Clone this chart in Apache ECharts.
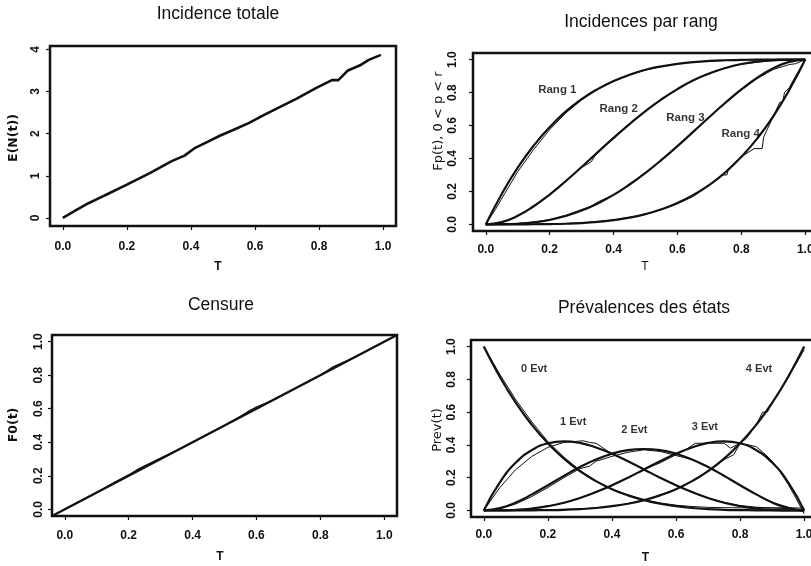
<!DOCTYPE html>
<html>
<head>
<meta charset="utf-8">
<script src="https://cdn.jsdelivr.net/npm/echarts@6/dist/echarts.min.js"></script>
<style>html,body{margin:0;padding:0;background:#fff}#c{width:811px;height:566px}</style>
</head>
<body>
<div id="c"></div>
<script>
// ---------- data ----------
const titles = ['Incidence totale', 'Incidences par rang', 'Censure', 'Prévalences des états'];
const yNames = ['E(N(t))', 'Fp(t), 0 < p < r', 'F0(t)', 'Prev(t)'];
const xName = 'T';
const xTicks = [0, 0.2, 0.4, 0.6, 0.8, 1.0];
const yTicksInc = [0, 1, 2, 3, 4];
const yTicksUnit = [0, 0.2, 0.4, 0.6, 0.8, 1.0];

// panel 1 : total incidence (one observed curve)
const incT =   [0, 0.04, 0.08, 0.11, 0.14, 0.20, 0.27, 0.34, 0.38, 0.41, 0.45, 0.49, 0.53, 0.58, 0.63, 0.68, 0.73, 0.79, 0.84, 0.86, 0.89, 0.93, 0.955, 0.993];
const incVal = [0, 0.18, 0.35, 0.46, 0.57, 0.79, 1.06, 1.35, 1.48, 1.65, 1.80, 1.95, 2.08, 2.25, 2.45, 2.64, 2.83, 3.08, 3.27, 3.27, 3.50, 3.63, 3.75, 3.87];

// common time grid of the smooth (theoretical) curves
const T = [0, 0.05, 0.1, 0.15, 0.2, 0.25, 0.3, 0.35, 0.4, 0.45, 0.5, 0.55, 0.6, 0.65, 0.7, 0.75, 0.8, 0.85, 0.9, 0.95, 1];

// panel 2 : incidence by rank, theoretical
const rang1 = [0, .185, .344, .478, .590, .684, .760, .821, .870, .908, .938, .959, .974, .985, .992, .996, .998, 1, 1, 1, 1];
const rang2 = [0, .014, .052, .110, .181, .262, .348, .437, .525, .609, .688, .759, .821, .874, .916, .949, .973, .988, .996, 1, 1];
const rang3 = [0, .001, .004, .012, .027, .051, .084, .127, .179, .242, .313, .391, .475, .563, .652, .738, .819, .891, .948, .986, 1];
const rang4 = [0, 0, 0, .001, .002, .004, .008, .015, .026, .041, .063, .092, .130, .179, .240, .316, .410, .522, .656, .815, 1];
// panel 2 : incidence by rank, observed
const rang1Emp = [[0,0],[0.03,0.09],[0.06,0.19],[0.1,0.32],[0.15,0.455],[0.2,0.575],[0.25,0.675],[0.3,0.755],[0.35,0.82],[0.4,0.868],[0.45,0.905],[0.5,0.937],[0.55,0.958],[0.6,0.975],[0.65,0.986],[0.7,0.99],[0.75,0.995],[0.8,0.997],[0.85,0.999],[0.9,0.995],[0.95,1],[1,1]];
const rang2Emp = [[0,0],[0.05,0.012],[0.1,0.05],[0.15,0.106],[0.2,0.18],[0.25,0.265],[0.3,0.345],[0.33,0.38],[0.35,0.44],[0.4,0.52],[0.45,0.61],[0.5,0.69],[0.55,0.76],[0.6,0.82],[0.65,0.875],[0.7,0.915],[0.75,0.95],[0.8,0.972],[0.85,0.985],[0.9,0.993],[0.95,0.995],[1,1]];
const rang3Emp = [[0,0],[0.05,0.002],[0.1,0.006],[0.15,0.014],[0.2,0.03],[0.25,0.055],[0.3,0.09],[0.33,0.11],[0.35,0.135],[0.4,0.18],[0.45,0.24],[0.5,0.31],[0.55,0.39],[0.6,0.475],[0.65,0.565],[0.7,0.65],[0.75,0.735],[0.8,0.815],[0.85,0.885],[0.9,0.94],[0.95,0.97],[0.97,0.975],[1,1]];
const rang4Emp = [[0,0],[0.1,0],[0.2,0.002],[0.3,0.009],[0.4,0.027],[0.5,0.06],[0.55,0.09],[0.6,0.125],[0.65,0.17],[0.7,0.24],[0.74,0.3],[0.755,0.3],[0.76,0.34],[0.8,0.41],[0.84,0.46],[0.865,0.46],[0.87,0.53],[0.9,0.655],[0.92,0.74],[0.93,0.745],[0.935,0.8],[0.95,0.83],[0.97,0.9],[1,1]];
const rangLabels = [[0.224, 0.818, 'Rang 1'], [0.416, 0.703, 'Rang 2'], [0.625, 0.648, 'Rang 3'], [0.798, 0.552, 'Rang 4']];

// panel 3 : censoring, theoretical diagonal and observed
const censTheoT = [-0.04, 1.04];
const censTheoV = [-0.04, 1.04];
const censEmp = [[0,0],[0.05,0.05],[0.1,0.10],[0.15,0.155],[0.2,0.205],[0.23,0.24],[0.25,0.26],[0.3,0.305],[0.35,0.35],[0.4,0.40],[0.45,0.45],[0.5,0.50],[0.55,0.555],[0.58,0.59],[0.6,0.61],[0.65,0.65],[0.7,0.70],[0.75,0.75],[0.8,0.80],[0.84,0.85],[0.9,0.90],[0.95,0.95],[1,1.0]];

// panel 4 : prevalence of states, theoretical
const prev0 = [1, .815, .656, .522, .410, .316, .240, .179, .130, .092, .063, .041, .026, .015, .008, .004, .002, .001, 0, 0, 0];
const prev1 = [0, .171, .292, .368, .410, .422, .412, .384, .346, .300, .250, .200, .154, .112, .076, .047, .026, .012, .004, 0, 0];
const prev2 = [0, .014, .049, .098, .154, .211, .265, .311, .346, .368, .375, .368, .346, .311, .265, .211, .154, .098, .049, .014, 0];
const prev3 = [0, 0, .004, .012, .026, .047, .076, .112, .154, .200, .250, .300, .346, .384, .412, .422, .410, .368, .292, .171, 0];
const prev4 = [0, 0, 0, .001, .002, .004, .008, .015, .026, .041, .063, .092, .130, .179, .240, .316, .410, .522, .656, .815, 1];
// panel 4 : prevalence of states, observed
const prev0Emp = [[0,1],[0.05,0.83],[0.1,0.675],[0.15,0.54],[0.2,0.42],[0.25,0.325],[0.3,0.245],[0.35,0.18],[0.4,0.13],[0.45,0.095],[0.5,0.066],[0.55,0.046],[0.6,0.032],[0.65,0.024],[0.7,0.019],[0.75,0.017],[0.8,0.016],[0.9,0.016],[1,0.015]];
const prev1Emp = [[0,0],[0.05,0.14],[0.1,0.25],[0.15,0.33],[0.2,0.385],[0.25,0.415],[0.28,0.42],[0.31,0.425],[0.33,0.415],[0.35,0.41],[0.4,0.345],[0.45,0.3],[0.5,0.25],[0.55,0.2],[0.6,0.155],[0.65,0.11],[0.7,0.075],[0.75,0.05],[0.8,0.03],[0.85,0.02],[0.9,0.015],[0.95,0.01],[1,0.0]];
const prev2Emp = [[0,0],[0.05,0.01],[0.1,0.04],[0.15,0.085],[0.2,0.14],[0.25,0.2],[0.3,0.255],[0.33,0.27],[0.35,0.3],[0.4,0.33],[0.45,0.355],[0.5,0.37],[0.55,0.36],[0.6,0.335],[0.65,0.31],[0.7,0.265],[0.75,0.215],[0.8,0.155],[0.85,0.1],[0.9,0.05],[0.95,0.02],[1,-0.01]];
const prev3Emp = [[0,0],[0.1,0.004],[0.15,0.012],[0.2,0.027],[0.25,0.045],[0.3,0.075],[0.35,0.11],[0.4,0.15],[0.45,0.2],[0.5,0.25],[0.55,0.29],[0.6,0.34],[0.63,0.37],[0.66,0.41],[0.7,0.41],[0.75,0.41],[0.77,0.38],[0.79,0.40],[0.8,0.41],[0.85,0.39],[0.88,0.34],[0.9,0.3],[0.92,0.25],[0.95,0.16],[0.97,0.09],[1,-0.02]];
const prev4Emp = [[0,0],[0.3,0.008],[0.4,0.025],[0.5,0.06],[0.6,0.13],[0.65,0.18],[0.7,0.24],[0.75,0.31],[0.78,0.34],[0.8,0.41],[0.82,0.44],[0.85,0.52],[0.87,0.6],[0.885,0.6],[0.9,0.655],[0.93,0.75],[0.95,0.82],[0.97,0.88],[1,0.98]];
const evtLabels = [[0.157, 0.866, '0 Evt'], [0.279, 0.537, '1 Evt'], [0.47, 0.488, '2 Evt'], [0.69, 0.512, '3 Evt'], [0.859, 0.866, '4 Evt']];

// ---------- chart ----------
const INK = '#111';
const SANS = '"Liberation Sans", Arial, Helvetica, sans-serif';
const WIDE = '"DejaVu Sans", sans-serif';

const grids = [
  { left: 50, top: 46, width: 346, height: 180 },
  { left: 473, top: 53, width: 345, height: 178 },
  { left: 52, top: 335, width: 345, height: 181 },
  { left: 471, top: 340, width: 346, height: 177 }
].map(g => Object.assign(g, { show: true, borderColor: INK, borderWidth: 2.5,
  backgroundColor: 'transparent', containLabel: false, outerBoundsMode: 'none' }));

const xMargins = [15, 13, 14, 12];
const yMargins = [8.5, 14.5, 7, 13];
const yRanges = [[-0.19, 4.08], [-0.04, 1.04], [-0.04, 1.04], [-0.04, 1.04]];

const xAxes = grids.map((g, i) => ({
  type: 'value', gridIndex: i, min: -0.04, max: 1.04,
  axisLine: { show: false, onZero: false }, splitLine: { show: false },
  axisTick: { show: true, length: 4, customValues: xTicks, lineStyle: { color: INK, width: 1.2 } },
  axisLabel: { customValues: xTicks, margin: xMargins[i], formatter: v => Number(v).toFixed(1),
    fontFamily: SANS, fontSize: 12, fontWeight: 'bold', color: INK, hideOverlap: false }
}));
const yAxes = grids.map((g, i) => {
  const ticks = i === 0 ? yTicksInc : yTicksUnit;
  return {
    type: 'value', gridIndex: i, min: yRanges[i][0], max: yRanges[i][1],
    axisLine: { show: false, onZero: false }, splitLine: { show: false },
    axisTick: { show: true, length: 4, customValues: ticks, lineStyle: { color: INK, width: 1.2 } },
    axisLabel: { customValues: ticks, margin: yMargins[i], rotate: 90,
      formatter: v => i === 0 ? String(Math.round(v)) : Number(v).toFixed(1),
      fontFamily: SANS, fontSize: 12, fontWeight: 'bold', color: INK }
  };
});

function zip(xs, ys) { return xs.map((x, k) => [x, ys[k]]); }
function line(idx, data, width, smooth) {
  return { type: 'line', xAxisIndex: idx, yAxisIndex: idx, data: data, symbol: 'none',
    smooth: smooth ? 0.5 : false, clip: true,
    lineStyle: { color: INK, width: width }, z: width > 1.5 ? 3 : 2, silent: true };
}
function labels(idx, data, size) {
  return { type: 'scatter', xAxisIndex: idx, yAxisIndex: idx, symbolSize: 1, silent: true, z: 5,
    itemStyle: { color: 'rgba(0,0,0,0)' },
    data: data.map(d => ({ value: [d[0], d[1]], name: d[2] })),
    label: { show: true, position: 'inside', formatter: p => p.name, color: '#000',
      textBorderWidth: 0, textShadowBlur: 0,
      fontFamily: SANS, fontSize: size, fontWeight: 'bold' } };
}

const series = [
  line(0, zip(incT, incVal), 2.6, false),

  line(1, zip(T, rang1), 2.2, true), line(1, zip(T, rang2), 2.2, true),
  line(1, zip(T, rang3), 2.2, true), line(1, zip(T, rang4), 2.2, true),
  line(1, rang1Emp, 1, false), line(1, rang2Emp, 1, false),
  line(1, rang3Emp, 1, false), line(1, rang4Emp, 1, false),
  labels(1, rangLabels, 11.5),

  line(2, zip(censTheoT, censTheoV), 2.4, false), line(2, censEmp, 1.3, false),

  line(3, zip(T, prev0), 2.2, true), line(3, zip(T, prev1), 2.2, true),
  line(3, zip(T, prev2), 2.2, true), line(3, zip(T, prev3), 2.2, true),
  line(3, zip(T, prev4), 2.2, true),
  line(3, prev0Emp, 1, false), line(3, prev1Emp, 1, false), line(3, prev2Emp, 1, false),
  line(3, prev3Emp, 1, false), line(3, prev4Emp, 1, false),
  labels(3, evtLabels, 11)
];

function txt(x, y, text, font, rot) {
  return { type: 'text', x: x, y: y, rotation: rot || 0, silent: true,
    style: { text: text, font: font, fill: INK, align: 'center', verticalAlign: 'middle',
      textAlign: 'center', textVerticalAlign: 'middle' } };
}
const R = Math.PI / 2;
const graphic = [
  txt(218, 14, titles[0], '17.5px ' + SANS),
  txt(641, 22.5, titles[1], '17.5px ' + SANS),
  txt(221, 305, titles[2], '17.5px ' + SANS),
  txt(644, 308, titles[3], '17.5px ' + SANS),
  txt(14, 138, yNames[0], 'bold 12.5px ' + WIDE, R),
  txt(438.5, 121, yNames[1], '13px ' + WIDE, R),
  txt(14, 425, yNames[2], 'bold 12.5px ' + WIDE, R),
  txt(437.5, 430, yNames[3], '13px ' + WIDE, R),
  txt(218, 267, xName, 'bold 12px ' + SANS),
  txt(645, 267, xName, '12px ' + SANS),
  txt(220, 557, xName, 'bold 12px ' + SANS),
  txt(645.5, 558, xName, 'bold 12px ' + SANS)
];

const chart = echarts.init(document.getElementById('c'), null, { renderer: 'canvas' });
chart.setOption({
  backgroundColor: '#fff',
  animation: false,
  grid: grids, xAxis: xAxes, yAxis: yAxes,
  series: series, graphic: graphic
});
</script>
</body>
</html>
